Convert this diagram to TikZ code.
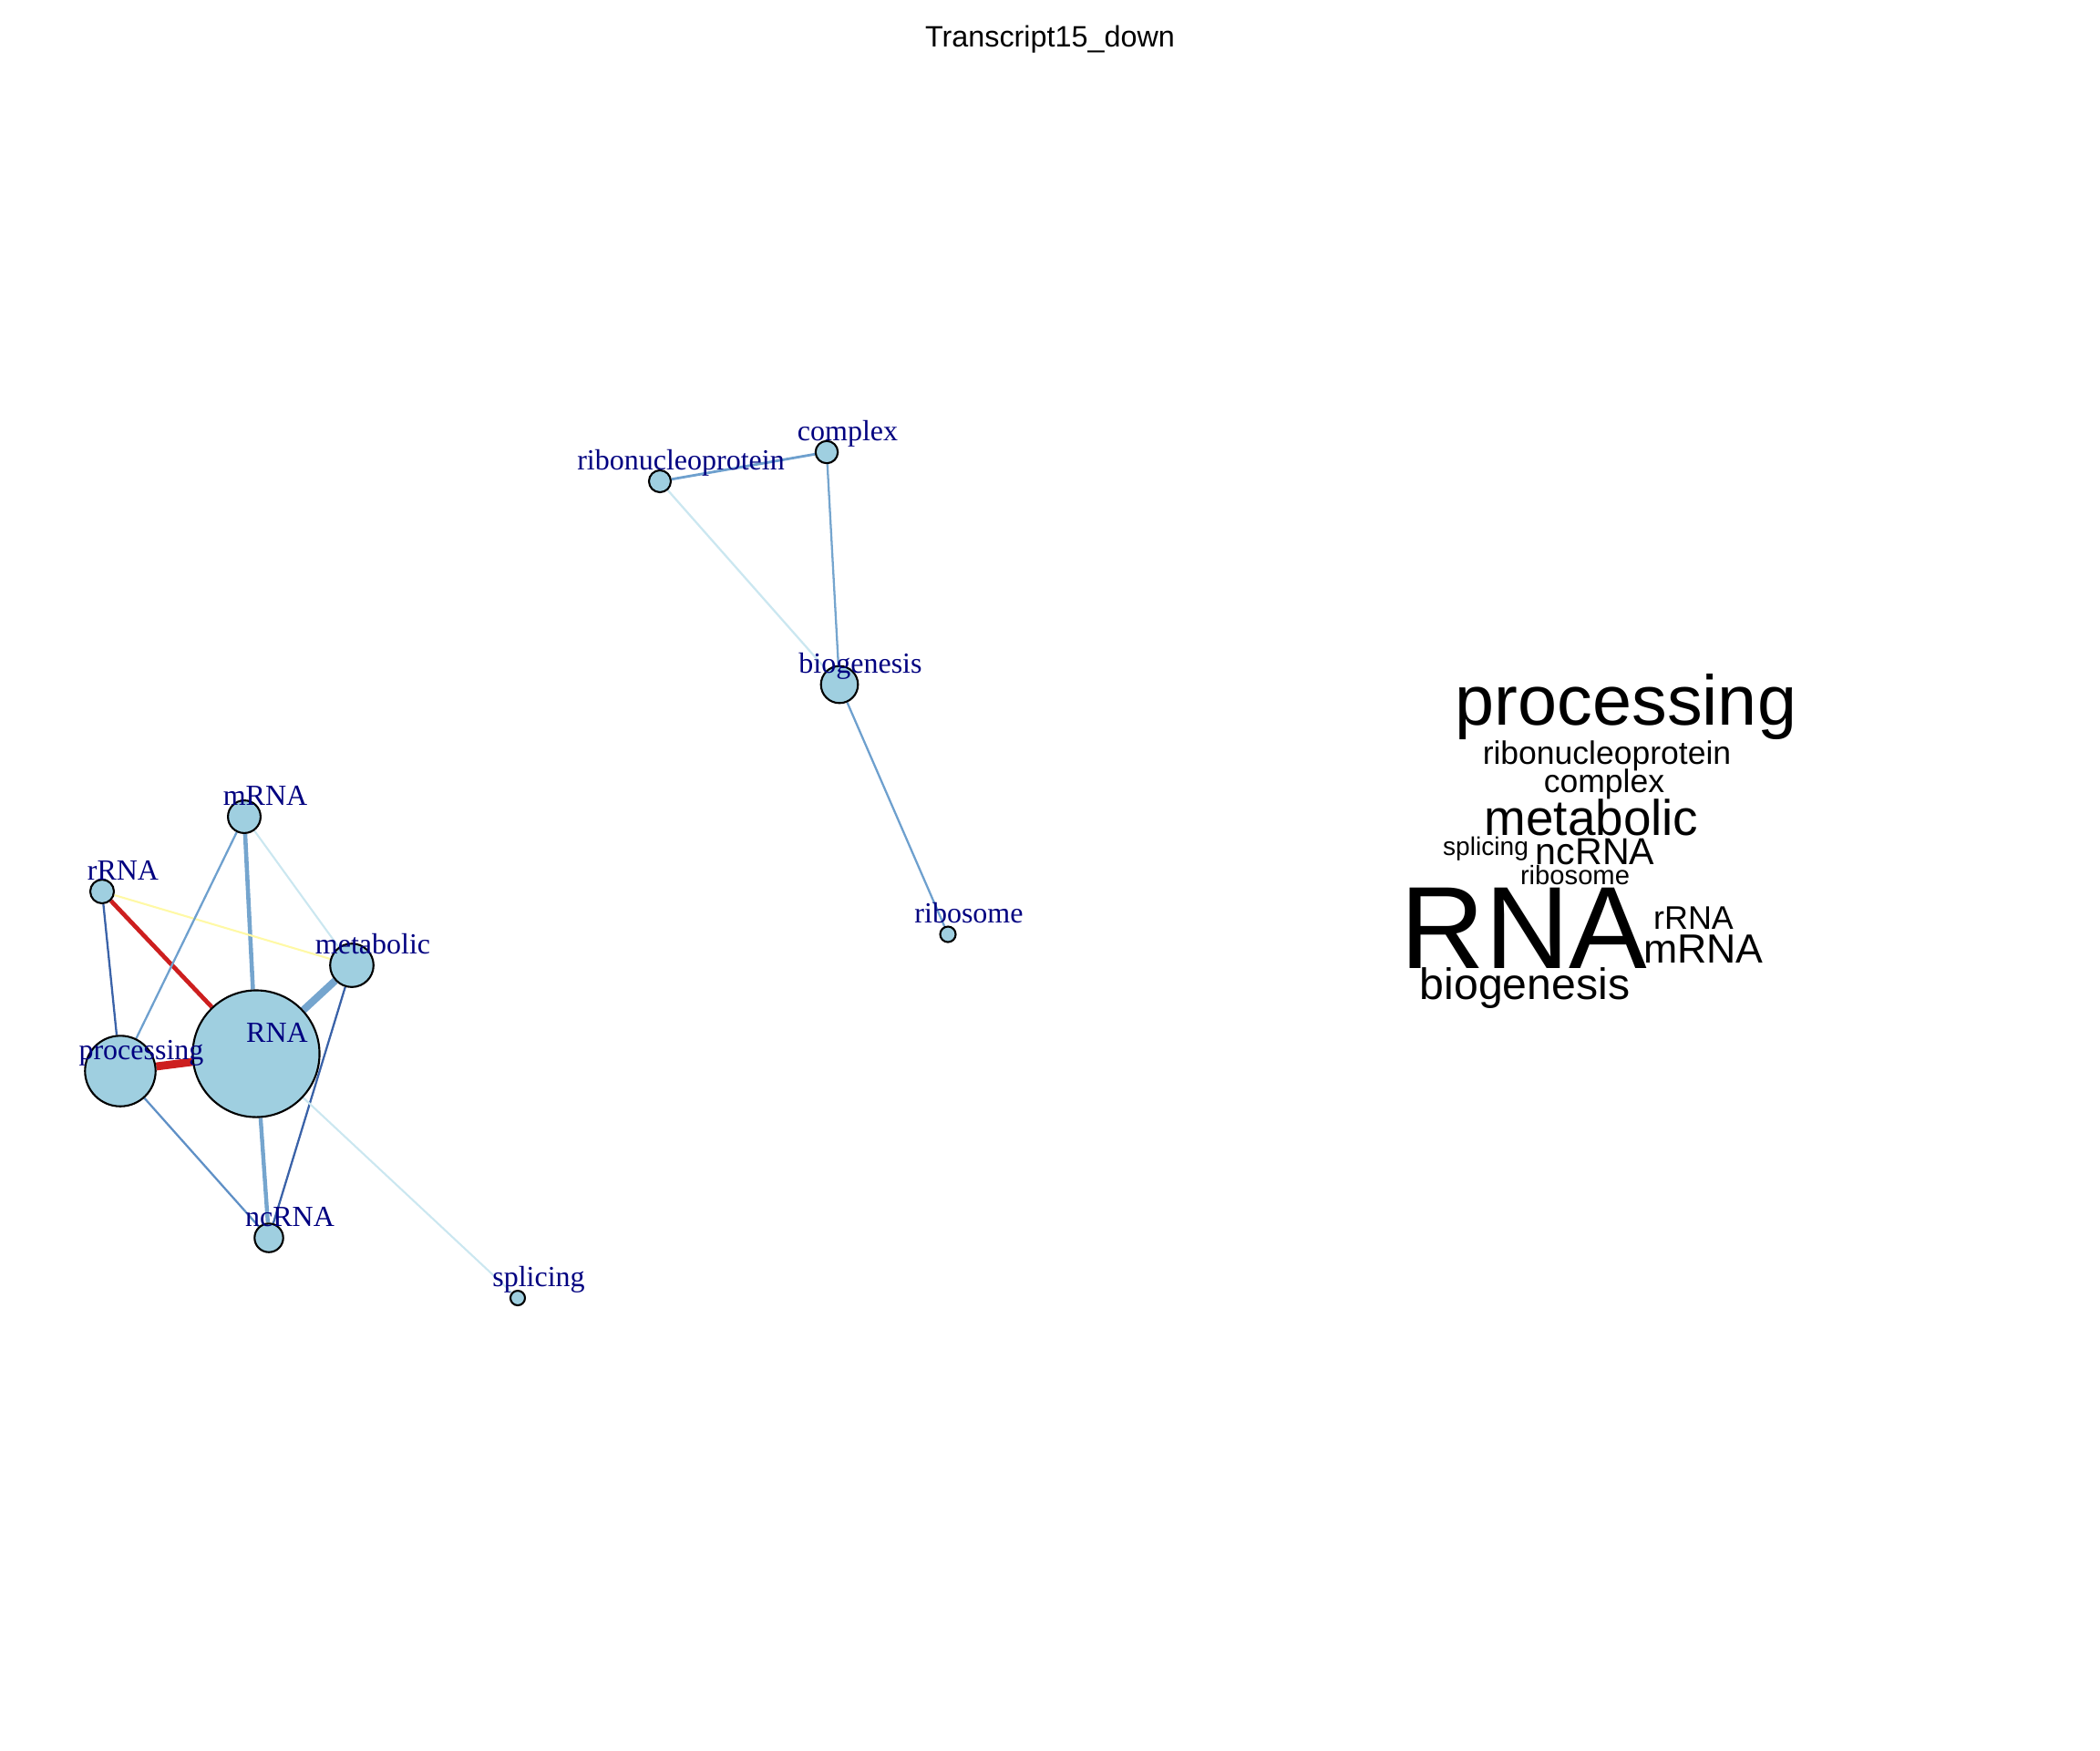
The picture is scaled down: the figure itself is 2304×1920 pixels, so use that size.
\documentclass[tikz,border=0pt]{standalone}
\usepackage{fontspec}
\setmainfont{Liberation Serif}
\newfontfamily\cloudfont{Liberation Sans}
\usetikzlibrary{backgrounds}
\definecolor{vfill}{HTML}{9FCFE0}
\definecolor{labnavy}{HTML}{000080}
\definecolor{esteel}{HTML}{75A5CE}
\definecolor{edark}{HTML}{3A62A8}
\definecolor{emid}{HTML}{6EA0CE}
\definecolor{emidb}{HTML}{5F90C6}
\definecolor{epale}{HTML}{CBE7F0}
\definecolor{eyellow}{HTML}{FFF9A6}
\definecolor{ered}{HTML}{CD1F1F}
\tikzset{
  vtx/.style={circle,draw=black,line width=0.6pt,fill=vfill,inner sep=0pt},
  lbl/.style={anchor=base,inner sep=0pt,text=labnavy,font=\fontsize{9.1}{10}\selectfont},
  word/.style={anchor=base,inner sep=0pt,font=\cloudfont}
}
\begin{document}
\begin{tikzpicture}[x=0.01cm,y=-0.01cm]
\useasboundingbox (0,0) rectangle (2304,1920);
\node[word,font=\cloudfont\fontsize{9.2}{11}\selectfont] (title) at (1152,51) {Transcript15\_down};
% vertices
\foreach \n/\x/\y/\d in {RNA/281/1156/1.39, processing/132/1175/0.774, metabolic/386/1059/0.476,
    mRNA/268/896/0.358, ncRNA/295/1358/0.314, rRNA/112/978/0.26, splicing/568/1424/0.16,
    complex/907/496/0.244, ribonucleoprotein/724/528/0.24, biogenesis/921/751/0.406, ribosome/1040/1025/0.17}
  \node[vtx,minimum size=\d cm] (\n) at (\x,\y) {};
% edges
\begin{scope}[on background layer]
\foreach \a/\b/\c/\w in {mRNA/RNA/esteel/1.3, RNA/metabolic/esteel/2.3, RNA/ncRNA/esteel/1.25,
    processing/RNA/ered/2.5, rRNA/RNA/ered/1.35, rRNA/metabolic/eyellow/0.6,
    rRNA/processing/edark/0.65, mRNA/processing/emid/0.65, mRNA/metabolic/epale/0.6,
    metabolic/ncRNA/edark/0.65, processing/ncRNA/emidb/0.65, RNA/splicing/epale/0.6,
    ribonucleoprotein/complex/emid/0.8, complex/biogenesis/esteel/0.65,
    ribonucleoprotein/biogenesis/epale/0.65, biogenesis/ribosome/emid/0.65}
  \draw[draw=\c,line width=\w pt] (\a) -- (\b);
\end{scope}
% labels
\foreach \n in {RNA,processing,metabolic,mRNA,ncRNA,rRNA,splicing,complex,ribonucleoprotein,biogenesis,ribosome}
  \node[lbl] (l-\n) at ([shift={(23,-13)}]\n.center) {\n};
% word cloud
\foreach \w/\x/\y/\s in {processing/1784/795/22, ribonucleoprotein/1763/838/10.1, complex/1760/869/10.1,
    metabolic/1746/916/15.6, splicing/1630/938/8, ncRNA/1750/948/11.7, ribosome/1728/970/8.3,
    RNA/1672/1062/36.5, rRNA/1858/1019/10.2, mRNA/1869/1056/12.7, biogenesis/1673/1096/13.7}
  \node[word] (w-\w) at (\x,\y) {\fontsize{\s}{\s}\selectfont\w};
\end{tikzpicture}
\end{document}
